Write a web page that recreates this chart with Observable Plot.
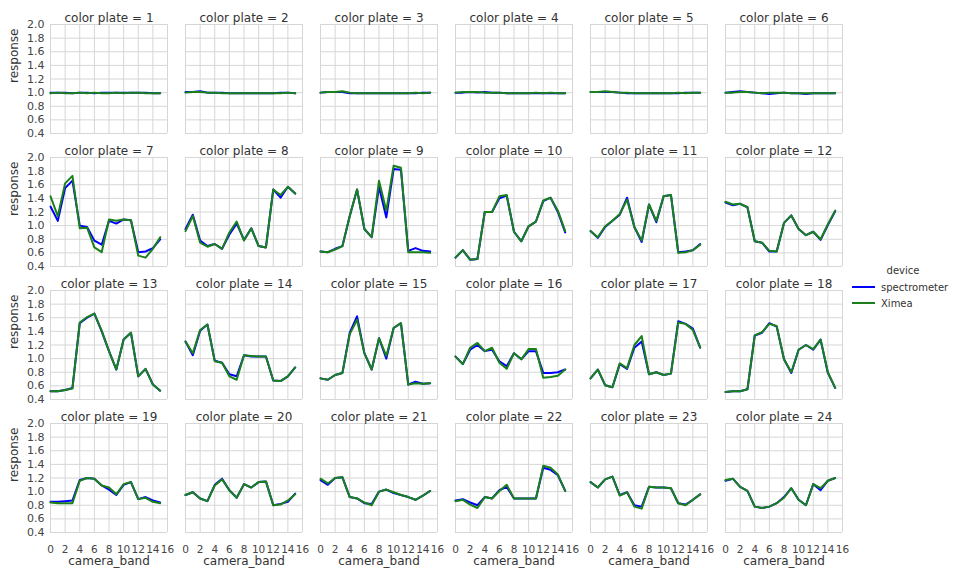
<!DOCTYPE html>
<html>
<head>
<meta charset="utf-8">
<script src="https://cdn.jsdelivr.net/npm/d3@7"></script>
<script src="https://cdn.jsdelivr.net/npm/@observablehq/plot@0.6"></script>
<style>
  html, body { margin: 0; padding: 0; background: #fff; }
  #wrap { position: relative; width: 957px; height: 568px; font-family: "DejaVu Sans", sans-serif; }
  #legend { position: absolute; left: 851px; top: 265px; width: 106px; font-size: 10px; color: #333; }
  #legend .title { text-align: center; width: 104px; margin-bottom: 3px; }
  #legend .row { display: flex; align-items: center; height: 16px; }
  #legend svg { margin-right: 6px; }
</style>
</head>
<body>
<div id="wrap"></div>
<script>
// ---- data ----
const bands = [0,1,2,3,4,5,6,7,8,9,10,11,12,13,14,15];
const plates = [1,2,3,4,5,6,7,8,9,10,11,12,13,14,15,16,17,18,19,20,21,22,23,24];
const devices = ["spectrometer", "Ximea"];
const deviceColors = ["#0000ff", "#1a801a"];
const xTicks = [0,2,4,6,8,10,12,14,16];
const yTicks = [0.4,0.6,0.8,1.0,1.2,1.4,1.6,1.8,2.0];

const spectrometer = [
  [1.00,1.00,1.00,0.99,1.00,1.00,0.99,1.00,1.00,1.00,1.00,1.00,1.00,1.00,0.99,0.99],
  [1.01,1.01,1.02,1.00,1.00,1.00,0.99,0.99,0.99,0.99,0.99,0.99,0.99,1.00,1.00,0.99],
  [1.00,1.01,1.01,1.01,0.99,0.99,0.99,0.99,0.99,0.99,0.99,0.99,0.99,0.99,1.00,1.00],
  [1.00,1.00,1.01,1.00,1.01,1.00,1.00,0.99,0.99,0.99,0.99,0.99,0.99,0.99,0.99,0.99],
  [1.01,1.01,1.01,1.01,1.00,0.99,0.99,0.99,0.99,0.99,0.99,0.99,0.99,1.00,1.00,1.00],
  [1.00,1.01,1.02,1.01,1.00,0.99,0.98,0.99,1.00,0.99,0.99,0.98,0.99,0.99,0.99,0.99],
  [1.28,1.07,1.55,1.66,1.00,0.98,0.78,0.72,1.07,1.03,1.09,1.08,0.61,0.62,0.67,0.80],
  [0.95,1.16,0.78,0.70,0.73,0.66,0.87,1.03,0.79,0.96,0.70,0.68,1.53,1.41,1.57,1.47],
  [0.62,0.61,0.66,0.70,1.14,1.53,0.95,0.83,1.57,1.12,1.83,1.82,0.63,0.67,0.63,0.62],
  [0.53,0.64,0.50,0.51,1.20,1.20,1.40,1.44,0.91,0.77,0.99,1.06,1.36,1.41,1.20,0.90],
  [0.92,0.82,0.98,1.07,1.16,1.41,0.98,0.76,1.31,1.05,1.43,1.45,0.61,0.62,0.64,0.73],
  [1.34,1.30,1.32,1.27,0.77,0.75,0.62,0.62,1.04,1.15,0.95,0.86,0.91,0.79,1.01,1.21],
  [0.52,0.52,0.54,0.57,1.52,1.60,1.66,1.40,1.11,0.84,1.28,1.38,0.74,0.85,0.62,0.53],
  [1.25,1.05,1.41,1.50,0.97,0.94,0.77,0.74,1.05,1.03,1.03,1.03,0.68,0.67,0.74,0.87],
  [0.71,0.69,0.76,0.79,1.38,1.62,1.08,0.84,1.30,1.00,1.45,1.52,0.62,0.66,0.63,0.64],
  [1.03,0.92,1.13,1.20,1.11,1.13,0.96,0.89,1.08,0.99,1.11,1.11,0.79,0.79,0.80,0.84],
  [0.71,0.84,0.61,0.58,0.92,0.85,1.16,1.25,0.77,0.80,0.76,0.78,1.55,1.51,1.44,1.16],
  [0.51,0.52,0.52,0.55,1.34,1.38,1.52,1.47,0.99,0.79,1.13,1.20,1.13,1.28,0.79,0.57],
  [0.85,0.85,0.86,0.87,1.17,1.20,1.19,1.09,1.03,0.95,1.10,1.14,0.89,0.92,0.87,0.84],
  [0.95,0.99,0.90,0.86,1.10,1.19,1.02,0.91,1.11,1.06,1.14,1.15,0.80,0.82,0.85,0.97],
  [1.17,1.10,1.20,1.21,0.92,0.90,0.83,0.82,1.00,1.03,0.98,0.95,0.92,0.88,0.94,1.01],
  [0.87,0.89,0.84,0.80,0.92,0.90,1.02,1.07,0.90,0.90,0.90,0.90,1.35,1.32,1.24,1.01],
  [1.14,1.06,1.18,1.22,0.95,0.99,0.80,0.78,1.07,1.06,1.06,1.05,0.83,0.81,0.88,0.96],
  [1.16,1.19,1.07,1.01,0.78,0.76,0.78,0.83,0.92,1.05,0.88,0.80,1.11,1.02,1.16,1.20]
];
const ximea = [
  [0.99,1.00,0.99,0.99,1.00,0.99,1.00,0.99,0.99,1.00,0.99,1.00,1.00,0.99,0.99,0.99],
  [1.00,1.01,1.01,1.00,1.00,0.99,0.99,0.99,0.99,0.99,0.99,0.99,0.99,0.99,1.00,0.99],
  [1.00,1.01,1.01,1.02,1.00,0.99,0.99,0.99,0.99,0.99,0.99,0.99,0.99,1.00,0.99,1.00],
  [1.00,1.01,1.01,1.01,1.00,1.00,1.00,0.99,0.99,0.99,0.99,1.00,0.99,1.00,0.99,0.99],
  [1.01,1.01,1.02,1.01,1.00,1.00,0.99,0.99,0.99,0.99,0.99,0.99,1.00,0.99,1.00,1.00],
  [1.00,1.00,1.01,1.01,1.00,0.99,1.00,1.00,1.00,0.99,0.99,0.99,0.99,0.99,0.99,0.99],
  [1.43,1.14,1.62,1.73,0.96,0.97,0.68,0.61,1.09,1.07,1.09,1.08,0.56,0.53,0.66,0.83],
  [0.92,1.14,0.75,0.69,0.73,0.66,0.90,1.06,0.78,0.96,0.70,0.68,1.53,1.45,1.57,1.47],
  [0.62,0.61,0.65,0.70,1.14,1.53,0.95,0.83,1.66,1.22,1.88,1.85,0.61,0.61,0.61,0.60],
  [0.53,0.64,0.50,0.51,1.20,1.20,1.43,1.45,0.91,0.77,0.99,1.06,1.37,1.41,1.22,0.92],
  [0.92,0.83,0.99,1.07,1.17,1.38,0.98,0.78,1.31,1.07,1.43,1.45,0.60,0.61,0.64,0.72],
  [1.35,1.31,1.32,1.27,0.77,0.75,0.63,0.62,1.04,1.15,0.95,0.86,0.91,0.80,1.02,1.22],
  [0.52,0.52,0.54,0.56,1.53,1.61,1.66,1.41,1.11,0.84,1.28,1.38,0.74,0.85,0.62,0.53],
  [1.25,1.08,1.42,1.50,0.96,0.94,0.74,0.69,1.05,1.04,1.03,1.03,0.68,0.67,0.74,0.87],
  [0.71,0.69,0.76,0.79,1.36,1.57,1.08,0.84,1.30,1.04,1.45,1.52,0.62,0.64,0.63,0.64],
  [1.03,0.92,1.16,1.23,1.11,1.16,0.94,0.85,1.08,0.99,1.14,1.14,0.72,0.73,0.75,0.84],
  [0.71,0.84,0.61,0.58,0.93,0.86,1.20,1.33,0.77,0.80,0.76,0.78,1.53,1.51,1.42,1.16],
  [0.51,0.52,0.52,0.55,1.34,1.39,1.51,1.48,0.99,0.80,1.13,1.20,1.14,1.28,0.80,0.57],
  [0.84,0.83,0.83,0.83,1.16,1.20,1.19,1.09,1.06,0.96,1.11,1.14,0.89,0.91,0.85,0.83],
  [0.95,0.99,0.90,0.86,1.09,1.18,1.02,0.91,1.11,1.06,1.14,1.15,0.80,0.81,0.87,0.96],
  [1.19,1.12,1.20,1.21,0.92,0.90,0.84,0.80,1.00,1.03,0.99,0.95,0.92,0.88,0.94,1.01],
  [0.86,0.88,0.81,0.76,0.92,0.90,1.01,1.10,0.90,0.90,0.90,0.90,1.38,1.35,1.25,1.01],
  [1.14,1.06,1.18,1.22,0.94,0.99,0.78,0.75,1.07,1.06,1.06,1.05,0.83,0.80,0.88,0.96],
  [1.17,1.19,1.07,1.01,0.78,0.76,0.78,0.83,0.91,1.05,0.88,0.80,1.11,1.05,1.16,1.20]
];

// ---- build long table ----
const NCOL = 6;
const rows = [];
const series = [spectrometer, ximea];
devices.forEach((dev, di) => {
  plates.forEach((p, pi) => {
    bands.forEach((b, bi) => {
      rows.push({plate: p, col: pi % NCOL, row: Math.floor(pi / NCOL), band: b, response: series[di][pi][bi], device: dev});
    });
  });
});
const panels = plates.map((p, pi) => ({plate: p, col: pi % NCOL, row: Math.floor(pi / NCOL)}));
const leftPanels = panels.filter(d => d.col === 0);
const bottomPanels = panels.filter(d => d.row === 3);

const textColor = "#333333";
const tickColor = "#444444";
const gridColor = "#d6d6d6";

const chart = Plot.plot({
  width: 957,
  height: 568,
  marginLeft: 48,
  marginRight: 114,
  marginTop: 22,
  marginBottom: 35,
  style: {fontFamily: "DejaVu Sans, sans-serif", fontSize: "11px", color: textColor, background: "#fff"},
  fx: {domain: d3.range(6), paddingInner: 0.136, paddingOuter: 0, axis: null},
  fy: {domain: d3.range(4), paddingInner: 0.183, paddingOuter: 0, axis: null},
  x: {domain: [0, 16]},
  y: {domain: [0.4, 2.0]},
  color: {domain: devices, range: deviceColors},
  marks: [
    Plot.gridX(xTicks, {stroke: gridColor, strokeOpacity: 1, strokeWidth: 1}),
    Plot.gridY(yTicks, {stroke: gridColor, strokeOpacity: 1, strokeWidth: 1}),
    Plot.axisX(xTicks, {tickSize: 0, tickPadding: 13, label: null, tickFormat: d => String(d), fill: tickColor, fontSize: 10.5}),
    Plot.axisY(yTicks, {tickSize: 0, tickPadding: 6, label: null, tickFormat: d3.format(".1f"), fill: tickColor, fontSize: 11}),
    Plot.line(rows, {x: "band", y: "response", z: "device", stroke: "device", fx: "col", fy: "row", strokeWidth: 2, curve: "linear"}),
    Plot.text(panels, {fx: "col", fy: "row", text: d => `color plate = ${d.plate}`, frameAnchor: "top", lineAnchor: "bottom", dy: -3, fontSize: 12, fill: textColor}),
    Plot.text(leftPanels, {fx: "col", fy: "row", text: () => "response", frameAnchor: "left", rotate: -90, dx: -36, dy: 4, fontSize: 12, fill: textColor}),
    Plot.text(bottomPanels, {fx: "col", fy: "row", text: () => "camera_band", frameAnchor: "bottom", lineAnchor: "top", dy: 24, fontSize: 12, fill: textColor})
  ]
});

const wrap = document.getElementById("wrap");
wrap.appendChild(chart);

// ---- legend ----
const legend = document.createElement("div");
legend.id = "legend";
const title = document.createElement("div");
title.className = "title";
title.textContent = "device";
legend.appendChild(title);
devices.forEach((dev, i) => {
  const row = document.createElement("div");
  row.className = "row";
  const svg = d3.create("svg").attr("width", 24).attr("height", 10);
  svg.append("line").attr("x1", 1).attr("x2", 24).attr("y1", 5).attr("y2", 5)
    .attr("stroke", deviceColors[i]).attr("stroke-width", 2);
  row.appendChild(svg.node());
  const label = document.createElement("span");
  label.textContent = dev;
  row.appendChild(label);
  legend.appendChild(row);
});
wrap.appendChild(legend);
</script>
</body>
</html>
